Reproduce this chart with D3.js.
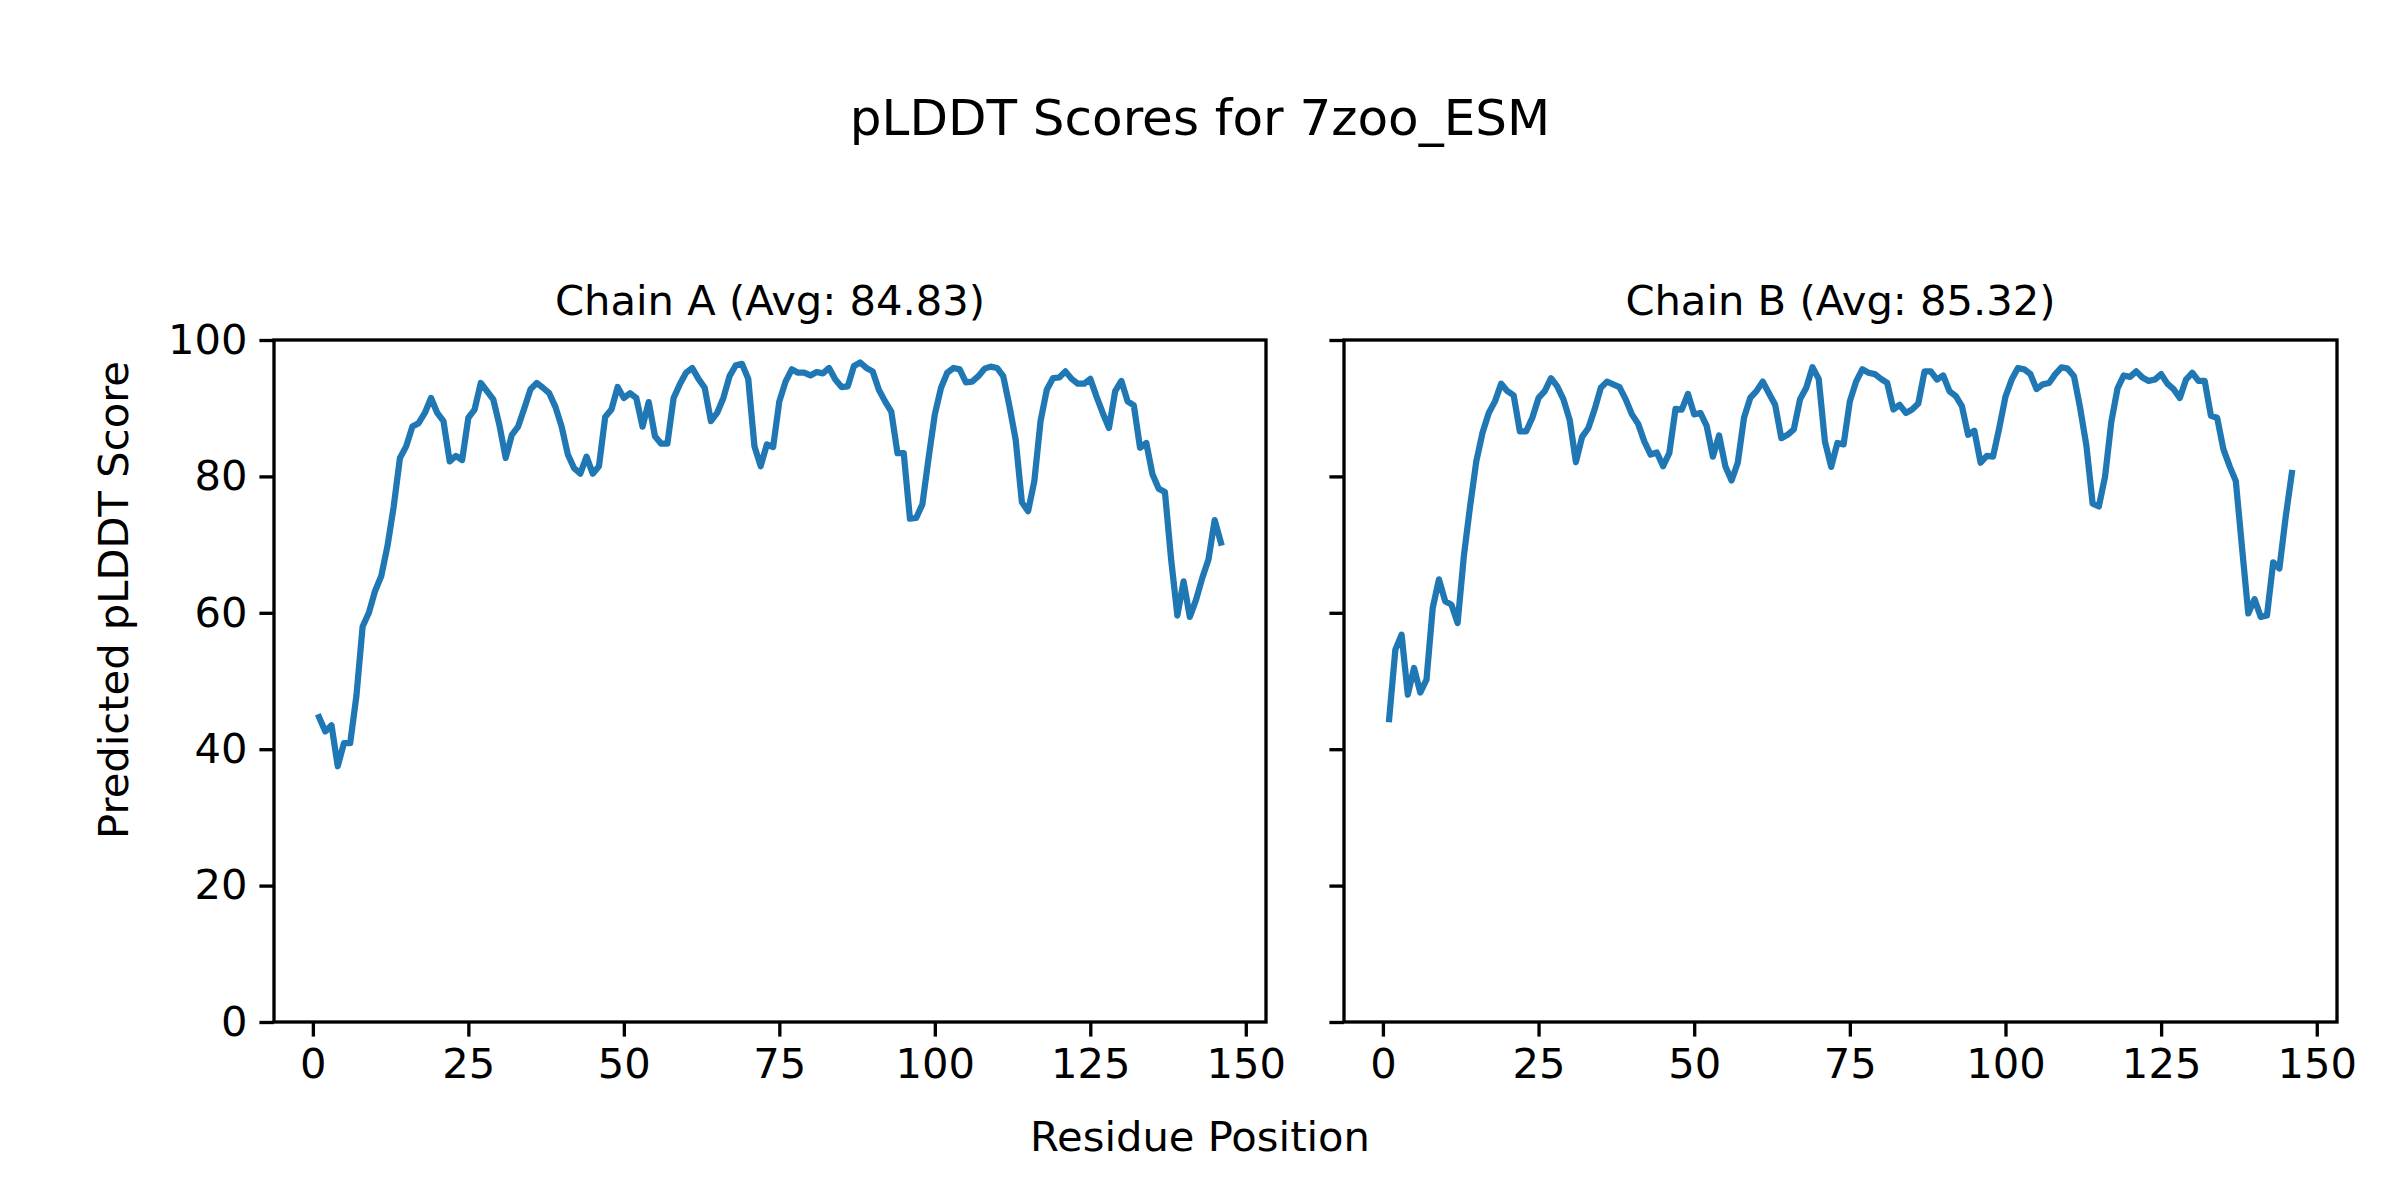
<!DOCTYPE html>
<html>
<head>
<meta charset="utf-8">
<script src="https://cdn.jsdelivr.net/npm/d3@7"></script>
<style>
  body { margin: 0; background: #fff; }
  text { font-family: "DejaVu Sans", sans-serif; }
</style>
</head>
<body>
<div id="container"></div>
<script>
// pLDDT per residue (residue 1..146)
const chainA = [
  44.7, 42.6, 43.5, 37.5, 40.9, 40.9, 47.8, 58.0, 60.0, 63.2, 65.4, 69.8, 75.6, 82.7, 84.4, 87.3, 87.8, 89.3, 91.5, 89.3,
  88.1, 82.2, 83.0, 82.4, 88.6, 89.8, 93.7, 92.5, 91.3, 87.5, 82.7, 86.1, 87.3, 90.0, 92.8, 93.7, 93.0, 92.2, 90.2, 87.3,
  83.2, 81.2, 80.4, 82.9, 80.4, 81.5, 88.7, 89.8, 93.1, 91.5, 92.2, 91.5, 87.3, 90.9, 85.9, 84.8, 84.8, 91.5, 93.5, 95.2,
  95.9, 94.3, 93.0, 88.1, 89.3, 91.5, 94.7, 96.3, 96.5, 94.3, 84.4, 81.5, 84.7, 84.3, 91.0, 93.9, 95.7, 95.2, 95.2, 94.8,
  95.3, 95.1, 95.9, 94.2, 93.1, 93.2, 96.2, 96.7, 95.9, 95.4, 92.7, 91.0, 89.5, 83.4, 83.4, 73.8, 73.9, 75.9, 82.7, 89.1,
  93.0, 95.2, 95.9, 95.7, 93.8, 93.9, 94.7, 95.8, 96.1, 95.9, 94.7, 90.3, 85.4, 76.2, 74.9, 79.3, 88.1, 92.7, 94.4, 94.5,
  95.4, 94.3, 93.6, 93.6, 94.3, 91.7, 89.3, 87.1, 92.5, 94.0, 91.0, 90.4, 84.2, 84.9, 80.3, 78.2, 77.7, 67.8, 59.6, 64.6,
  59.4, 61.9, 65.1, 67.8, 73.6, 70.3
];
const chainB = [
  44.4, 54.6, 56.8, 48.0, 51.9, 48.3, 50.2, 60.7, 64.9, 61.7, 61.2, 58.5, 68.3, 75.6, 82.2, 86.4, 89.3, 91.0, 93.6, 92.5,
  91.9, 86.6, 86.6, 88.6, 91.5, 92.5, 94.4, 93.2, 91.3, 88.3, 82.1, 85.8, 87.1, 89.8, 93.0, 93.9, 93.5, 93.1, 91.3, 89.1,
  87.7, 85.1, 83.2, 83.5, 81.5, 83.4, 89.9, 89.8, 92.1, 89.1, 89.3, 87.4, 82.9, 86.0, 81.5, 79.4, 82.0, 88.6, 91.5, 92.5,
  93.9, 92.2, 90.5, 85.6, 86.1, 86.9, 91.3, 93.0, 96.0, 94.3, 85.1, 81.4, 84.9, 84.7, 91.0, 93.9, 95.7, 95.2, 95.0, 94.3,
  93.7, 89.8, 90.5, 89.3, 89.8, 90.7, 95.4, 95.4, 94.2, 94.8, 92.5, 91.8, 90.3, 86.1, 86.7, 82.0, 83.0, 82.9, 87.1, 91.7,
  94.2, 95.9, 95.7, 95.0, 92.8, 93.5, 93.7, 95.0, 96.0, 95.8, 94.7, 90.0, 84.5, 76.0, 75.6, 80.0, 88.0, 92.9, 94.8, 94.6,
  95.4, 94.5, 94.0, 94.2, 95.0, 93.6, 92.8, 91.5, 94.2, 95.2, 94.0, 94.0, 88.9, 88.6, 84.0, 81.5, 79.3, 69.5, 59.9, 62.0,
  59.4, 59.6, 67.4, 66.5, 74.0, 80.5
];
const chainTitles = ["Chain A (Avg: 84.83)", "Chain B (Avg: 85.32)"];
const xTicks = [0, 25, 50, 75, 100, 125, 150];
const yTicks = [0, 20, 40, 60, 80, 100];

const w = 2400, h = 1200;
const plotTop = 340, plotBottom = 1022;
const panels = [{left: 274, right: 1266}, {left: 1344, right: 2337}];
const fontSize = 41.67;
const lineWidth = 3.33;

const svg = d3.select("#container").append("svg")
  .attr("width", w).attr("height", h);

svg.append("rect").attr("width", w).attr("height", h).attr("fill", "#fff");

svg.append("text")
  .attr("x", w / 2).attr("y", 135)
  .attr("text-anchor", "middle")
  .attr("font-size", 50)
  .text("pLDDT Scores for 7zoo_ESM");

svg.append("text")
  .attr("x", w / 2).attr("y", 1151)
  .attr("text-anchor", "middle")
  .attr("font-size", fontSize)
  .text("Residue Position");

svg.append("text")
  .attr("transform", "translate(128," + (h / 2) + ") rotate(-90)")
  .attr("text-anchor", "middle")
  .attr("font-size", fontSize)
  .text("Predicted pLDDT Score");

const series = [chainA, chainB];

series.forEach((vals, i) => {
  const p = panels[i];
  const n = vals.length;
  const pad = (n - 1) * 0.05;
  const x = d3.scaleLinear().domain([1 - pad, n + pad]).range([p.left, p.right]);
  const y = d3.scaleLinear().domain([0, 100]).range([plotBottom, plotTop]);

  const g = svg.append("g");

  const xAxis = d3.axisBottom(x).tickValues(xTicks).tickSize(14.6).tickPadding(12);
  const yAxis = d3.axisLeft(y).tickValues(yTicks).tickSize(14.6).tickPadding(12);
  if (i > 0) yAxis.tickFormat("");

  const gx = g.append("g").attr("transform", "translate(0," + plotBottom + ")").call(xAxis);
  const gy = g.append("g").attr("transform", "translate(" + p.left + ",0)").call(yAxis);
  [gx, gy].forEach(a => {
    a.select(".domain").remove();
    a.selectAll("line").attr("stroke", "#000").attr("stroke-width", lineWidth);
    a.selectAll("text").attr("font-size", fontSize).attr("fill", "#000")
      .attr("font-family", "DejaVu Sans");
  });

  const line = d3.line()
    .x((d, j) => x(j + 1))
    .y(d => y(d));

  g.append("path")
    .datum(vals)
    .attr("fill", "none")
    .attr("stroke", "#1f77b4")
    .attr("stroke-width", 6.25)
    .attr("stroke-linejoin", "round")
    .attr("stroke-linecap", "square")
    .attr("d", line);

  g.append("rect")
    .attr("x", p.left).attr("y", plotTop)
    .attr("width", p.right - p.left).attr("height", plotBottom - plotTop)
    .attr("fill", "none").attr("stroke", "#000").attr("stroke-width", lineWidth);

  g.append("text")
    .attr("x", (p.left + p.right) / 2).attr("y", plotTop - 25)
    .attr("text-anchor", "middle")
    .attr("font-size", fontSize)
    .text(chainTitles[i]);
});
</script>
</body>
</html>
